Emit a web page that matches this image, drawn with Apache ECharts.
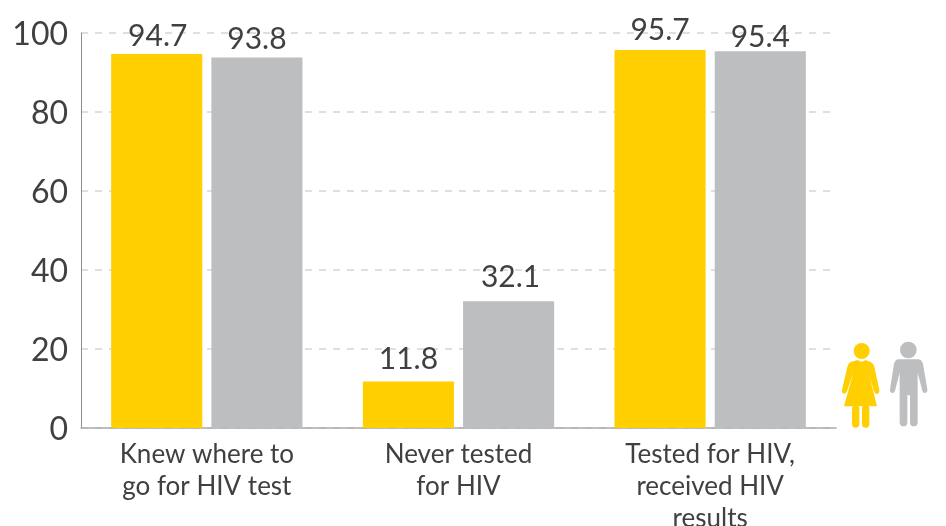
<!DOCTYPE html>
<html><head><meta charset="utf-8">
<style>html,body{margin:0;padding:0;background:#fff}#c{width:946px;height:526px}</style>
<script src="https://cdn.jsdelivr.net/npm/echarts@6/dist/echarts.min.js"></script>
</head><body><div id="c"></div>
<script>
const categories = ['Knew where to\ngo for HIV test', 'Never tested\nfor HIV', 'Tested for HIV,\nreceived HIV\nresults'];
const women = [94.7, 11.8, 95.7];
const men = [93.8, 32.1, 95.4];
const yTicks = {min: 0, max: 100, interval: 20};
const FONT = 'Lato, "Open Sans", sans-serif';
const TEXT = '#404040';
const YELLOW = '#ffcf01';
const GREY = '#bcbec0';
const womanBody = 'M84 90 Q95 100 106 90 L122 96 Q130 100 133 110 L148 180 Q149 190 141 192 Q135 193 132 184 L116 128 L141 229 L42 229 L70 128 L51 184 Q47 193 41 191 Q34 188 36 180 L52 110 Q55 100 62 96 Z';
const manBody = 'M204 88 L266 88 Q276 90 279 102 L292 178 Q293 188 285 189 Q279 190 277 182 L263 128 L263 278 Q262 289 251 289 Q241 289 240 278 L240 196 L232 196 L232 278 Q231 289 221 289 Q210 289 209 278 L209 128 L195 182 Q192 190 186 189 Q179 187 180 178 L192 102 Q195 90 204 88 Z';
const chart = echarts.init(document.getElementById('c'), null, {renderer: 'canvas'});
const lab = {show: true, position: 'top', distance: 3, fontFamily: FONT, fontSize: 30, color: TEXT};
const withOffset = (vals, offs) => vals.map((v, i) => ({value: v, label: {offset: offs[i]}}));
chart.setOption({
  animation: false,
  backgroundColor: '#fff',
  grid: {left: 81, right: 110, top: 33, bottom: 98, outerBoundsMode: 'none'},
  xAxis: {
    type: 'category', data: categories,
    axisLine: {show: true, lineStyle: {color: '#a9abae', width: 1.5}},
    axisTick: {show: false},
    axisLabel: {interval: 0, margin: 11, fontFamily: FONT, fontSize: 26, lineHeight: 32, color: TEXT}
  },
  yAxis: {
    type: 'value', min: yTicks.min, max: yTicks.max, interval: yTicks.interval,
    axisLine: {show: true, lineStyle: {color: '#8a8c8e', width: 1}},
    axisTick: {show: false},
    axisLabel: {
      margin: 13, formatter: '{n|{value}}',
      rich: {n: {fontFamily: FONT, fontSize: 32, color: TEXT, padding: [4, 0, 0, 0]}}
    },
    splitLine: {show: true, lineStyle: {color: '#d4d5d6', type: [7, 7], width: 1.5}}
  },
  series: [
    {type: 'bar', name: 'Women', data: withOffset(women, [[1, 0], [0, -4], [0, -2]]), barWidth: '36.2%', barGap: '10%', itemStyle: {color: YELLOW}, label: lab},
    {type: 'bar', name: 'Men', data: withOffset(men, [[0, 0], [2, -6], [0, 4]]), barWidth: '36.2%', barGap: '10%', itemStyle: {color: GREY}, label: lab}
  ]
});
const zr = chart.getZr();
const icon = new echarts.graphic.Group({x: 830, y: 330, scaleX: 1/3, scaleY: 1/3, silent: true});
icon.add(new echarts.graphic.Circle({shape: {cx: 95, cy: 63, r: 24}, style: {fill: YELLOW}}));
icon.add(echarts.graphic.makePath(womanBody, {style: {fill: YELLOW}}));
icon.add(new echarts.graphic.Rect({shape: {x: 66, y: 225, width: 22, height: 68, r: 11}, style: {fill: YELLOW}}));
icon.add(new echarts.graphic.Rect({shape: {x: 96, y: 225, width: 22, height: 68, r: 11}, style: {fill: YELLOW}}));
icon.add(new echarts.graphic.Circle({shape: {cx: 235, cy: 60, r: 25}, style: {fill: GREY}}));
icon.add(echarts.graphic.makePath(manBody, {style: {fill: GREY}}));
zr.add(icon);
</script></body></html>
